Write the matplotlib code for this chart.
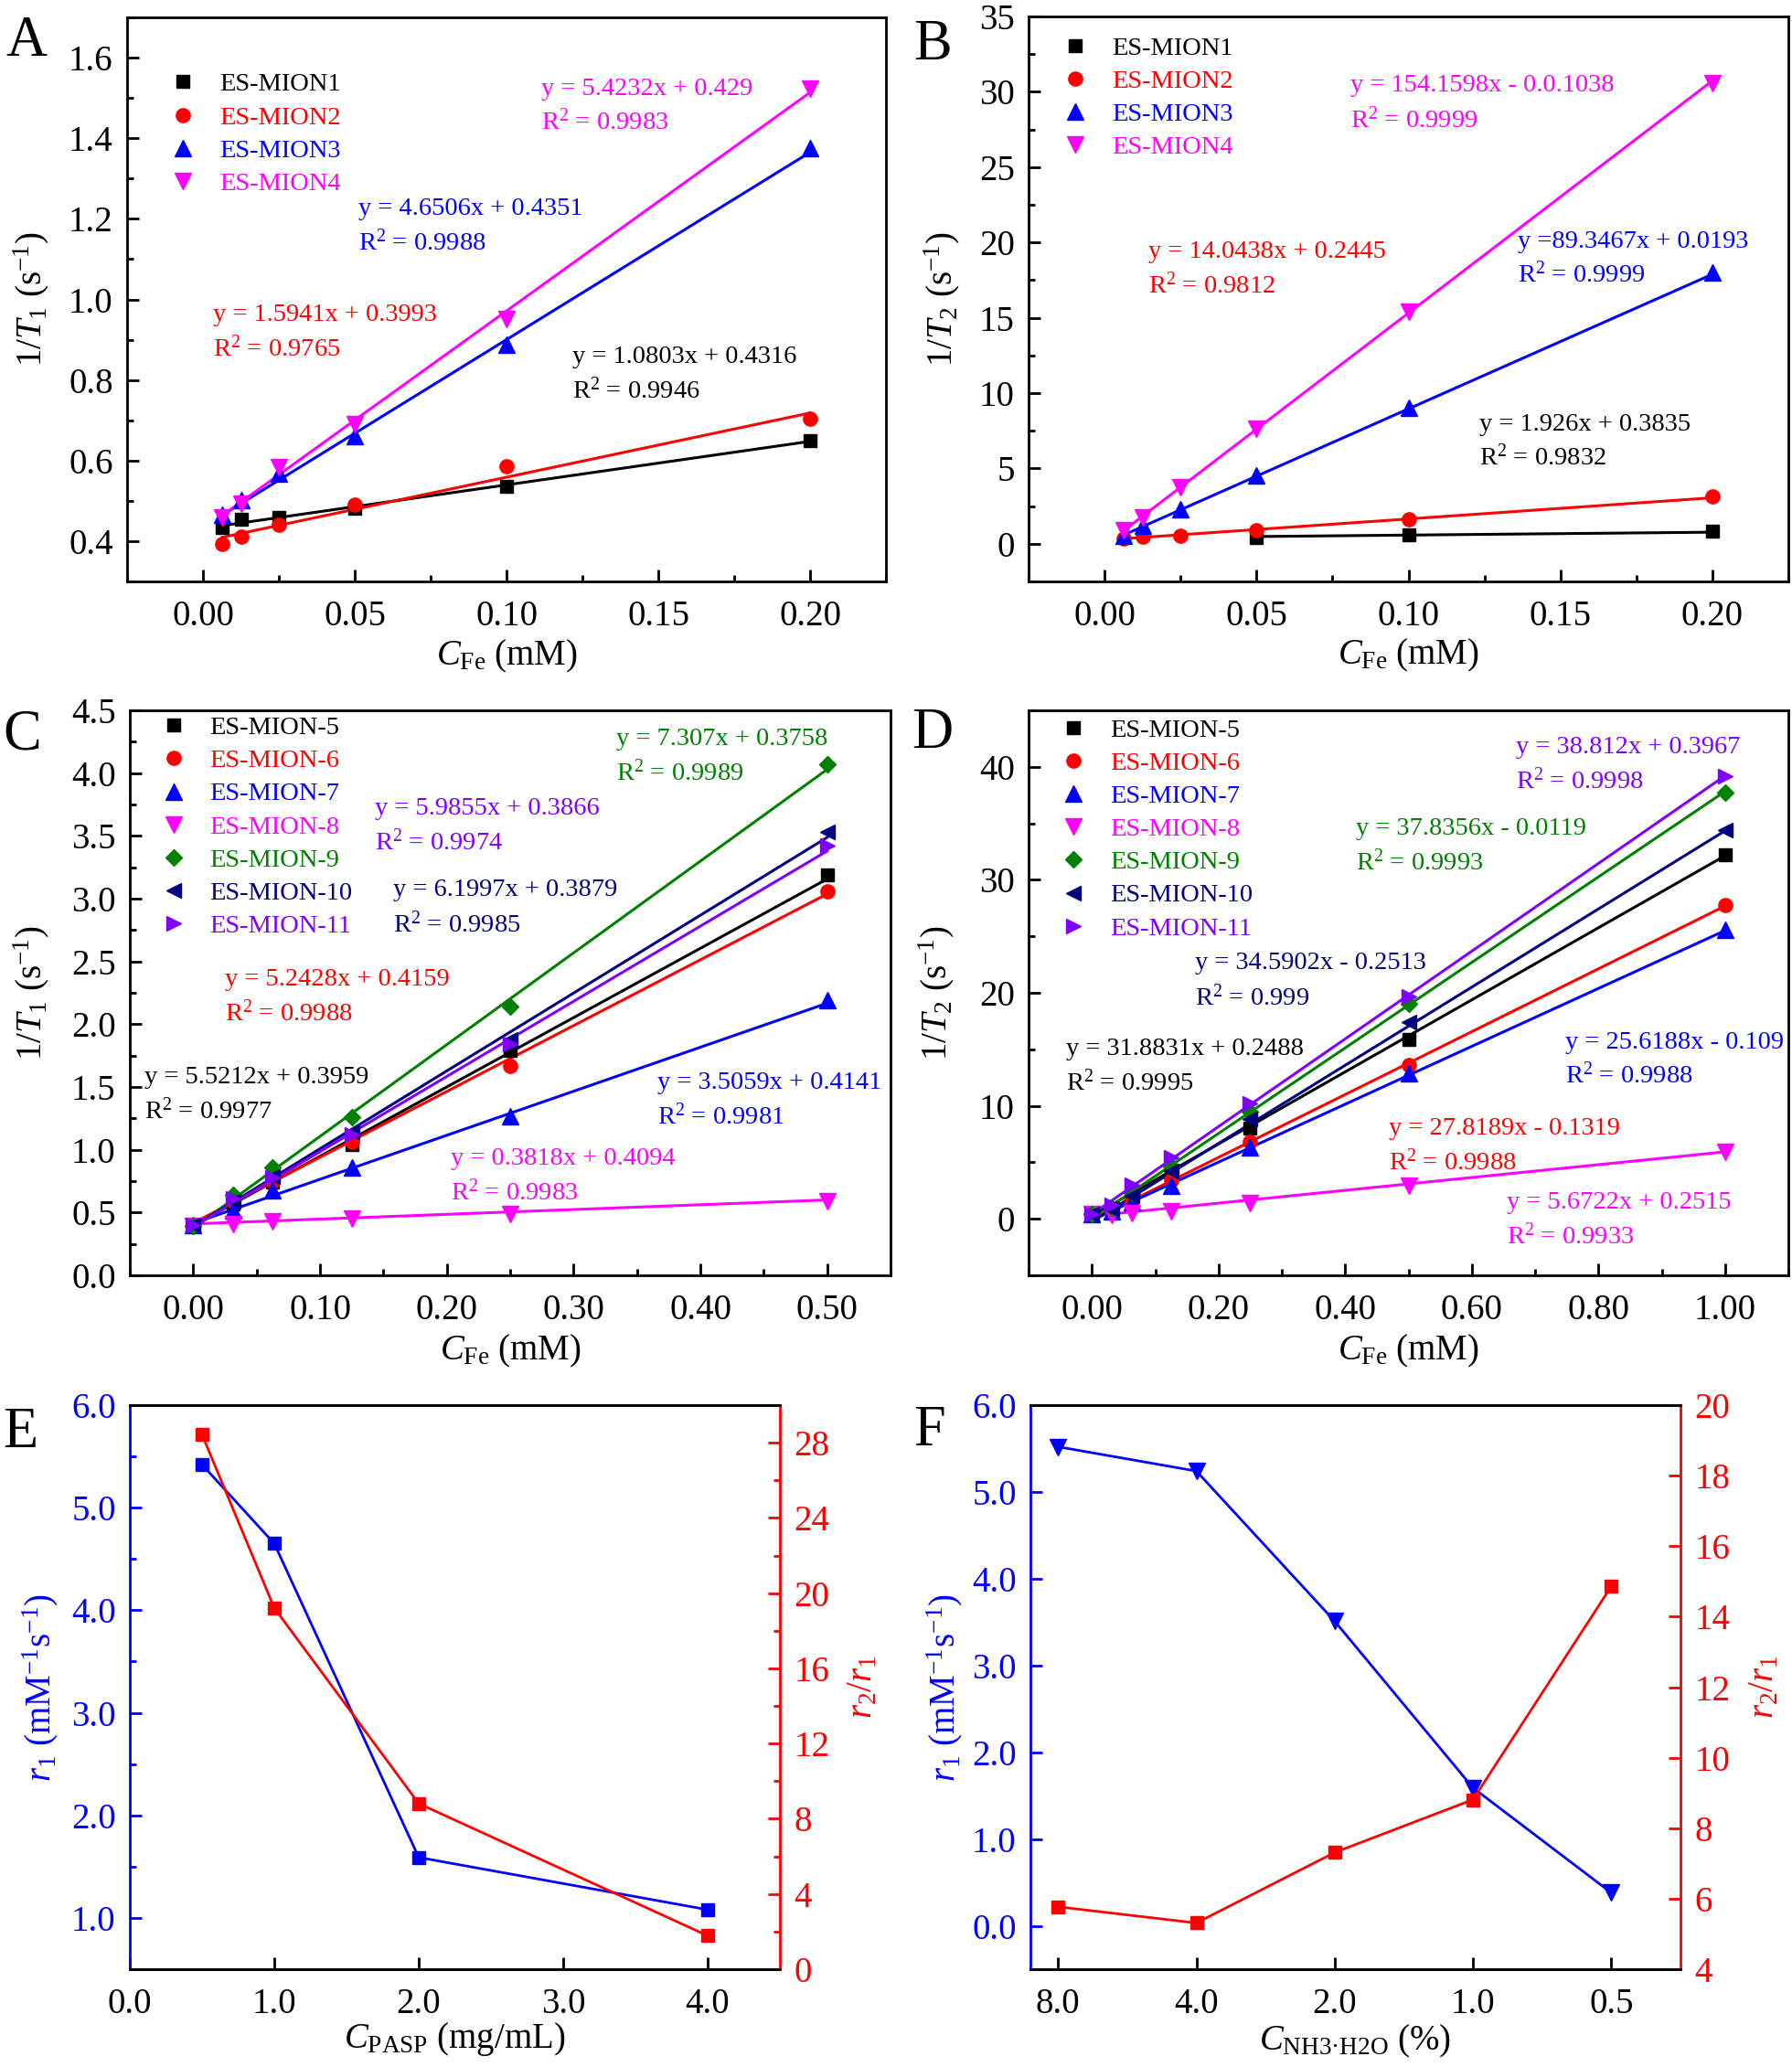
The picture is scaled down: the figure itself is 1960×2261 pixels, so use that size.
import numpy as np
import matplotlib
matplotlib.use('Agg')
import matplotlib.pyplot as plt
from matplotlib.ticker import MultipleLocator, FormatStrFormatter

plt.rcParams['font.family'] = ['Liberation Serif', 'DejaVu Serif']
plt.rcParams['mathtext.fontset'] = 'custom'
plt.rcParams['mathtext.rm'] = 'Liberation Serif'
plt.rcParams['mathtext.it'] = 'Liberation Serif:italic'
plt.rcParams['mathtext.bf'] = 'Liberation Serif:bold'

BLACK, RED, BLUE, MAGENTA = '#000000', '#FF0000', '#0000FF', '#FF00FF'
GREEN, NAVY, VIOLET = '#008000', '#000080', '#8000FF'

# ---- panel A / B : ES-MION1..4 ----
names_ab = ['ES-MION1', 'ES-MION2', 'ES-MION3', 'ES-MION4']
x_ab = [0.00625, 0.0125, 0.025, 0.05, 0.1, 0.2]
a_t1 = [[0.435, 0.455, 0.459, 0.481, 0.536, 0.649],
        [0.393, 0.411, 0.441, 0.490, 0.587, 0.704],
        [0.466, 0.501, 0.567, 0.660, 0.888, 1.375],
        [0.459, 0.492, 0.583, 0.690, 0.952, 1.523]]
a_slope = [1.0803, 1.5941, 4.6506, 5.4232]
a_icpt = [0.4316, 0.3993, 0.4351, 0.429]

b_x1 = [0.05, 0.1, 0.2]
b_t2 = [[0.44, 0.59, 0.82],
        [0.38, 0.47, 0.53, 0.88, 1.65, 3.12],
        [0.53, 1.18, 2.29, 4.56, 9.00, 18.03],
        [0.88, 1.76, 3.76, 7.65, 15.38, 30.6]]
b_slope = [1.926, 14.0438, 89.3467, 154.1598]
b_icpt = [0.3835, 0.2445, 0.0193, -0.1038]

# ---- panel C / D : ES-MION-5..11 ----
names_cd = ['ES-MION-5', 'ES-MION-6', 'ES-MION-7', 'ES-MION-8',
            'ES-MION-9', 'ES-MION-10', 'ES-MION-11']
x_c = [0, 0.03125, 0.0625, 0.125, 0.25, 0.5]
c_t1 = [[0.39, 0.57, 0.74, 1.04, 1.79, 3.19],
        [0.40, 0.59, 0.75, 1.06, 1.67, 3.06],
        [0.40, 0.52, 0.68, 0.86, 1.27, 2.19],
        [0.39, 0.41, 0.43, 0.45, 0.49, 0.59],
        [0.39, 0.64, 0.86, 1.26, 2.14, 4.07],
        [0.40, 0.59, 0.79, 1.14, 1.88, 3.53],
        [0.40, 0.61, 0.78, 1.12, 1.84, 3.42]]
c_slope = [5.5212, 5.2428, 3.5059, 0.3818, 7.307, 6.1997, 5.9855]
c_icpt = [0.3959, 0.4159, 0.4141, 0.4094, 0.3758, 0.3879, 0.3866]

x_d = [0, 0.03125, 0.0625, 0.125, 0.25, 0.5, 1.0]
d_t2 = [[0.4, 0.9, 1.9, 4.1, 8.0, 15.9, 32.2],
        [0.3, 0.6, 1.6, 3.4, 6.8, 13.6, 27.8],
        [0.4, 0.7, 1.5, 2.9, 6.3, 12.9, 25.6],
        [0.4, 0.3, 0.5, 0.7, 1.4, 2.9, 5.9],
        [0.4, 1.0, 2.3, 4.6, 9.5, 19.0, 37.7],
        [0.4, 0.8, 2.0, 4.2, 8.8, 17.4, 34.4],
        [0.4, 1.2, 3.0, 5.4, 10.2, 19.7, 39.2]]
d_slope = [31.8831, 27.8189, 25.6188, 5.6722, 37.8356, 34.5902, 38.812]
d_icpt = [0.2488, -0.1319, -0.109, 0.2515, -0.0119, -0.2513, 0.3967]

# ---- panel E / F ----
pasp = [0.5, 1.0, 2.0, 4.0]
e_r1 = [5.42, 4.65, 1.59, 1.08]
e_ratio = [28.43, 19.21, 8.81, 1.78]
nh3_labels = ['8.0', '4.0', '2.0', '1.0', '0.5']
f_r1 = [5.52, 5.24, 3.51, 1.59, 0.38]
f_ratio = [5.77, 5.31, 7.31, 8.81, 14.86]

# fit equation labels: (equation, R2, x, y baseline eq, y baseline R2)
ann_a = [('y = 1.0803x + 0.4316', '0.9946', 0.1216, 0.842, 0.754),
         ('y = 1.5941x + 0.3993', '0.9765', 0.0032, 0.946, 0.858),
         ('y = 4.6506x + 0.4351', '0.9988', 0.0513, 1.210, 1.122),
         ('y = 5.4232x + 0.429', '0.9983', 0.1115, 1.507, 1.422)]
ann_b = [('y = 1.926x + 0.3835', '0.9832', 0.1233, 7.53, 5.24),
         ('y = 14.0438x + 0.2445', '0.9812', 0.0144, 18.97, 16.62),
         ('y =89.3467x + 0.0193', '0.9999', 0.136, 19.65, 17.35),
         ('y = 154.1598x - 0.0.1038', '0.9999', 0.081, 30.0, 27.65)]
ann_c = [('y = 5.5212x + 0.3959', '0.9977', -0.0384, 1.53, 1.25),
         ('y = 5.2428x + 0.4159', '0.9988', 0.0248, 2.31, 2.03),
         ('y = 3.5059x + 0.4141', '0.9981', 0.366, 1.486, 1.203),
         ('y = 0.3818x + 0.4094', '0.9983', 0.2028, 0.884, 0.601),
         ('y = 7.307x + 0.3758', '0.9989', 0.334, 4.22, 3.94),
         ('y = 6.1997x + 0.3879', '0.9985', 0.158, 3.02, 2.73),
         ('y = 5.9855x + 0.3866', '0.9974', 0.143, 3.67, 3.39)]
ann_d = [('y = 31.8831x + 0.2488', '0.9995', -0.0407, 14.5, 11.4),
         ('y = 27.8189x - 0.1319', '0.9988', 0.469, 7.49, 4.35),
         ('y = 25.6188x - 0.109', '0.9988', 0.747, 15.1, 12.0),
         ('y = 5.6722x + 0.2515', '0.9933', 0.655, 0.9, -2.24),
         ('y = 37.8356x - 0.0119', '0.9993', 0.417, 34.0, 30.9),
         ('y = 34.5902x - 0.2513', '0.999', 0.1626, 22.1, 18.9),
         ('y = 38.812x + 0.3967', '0.9998', 0.670, 41.2, 38.1)]

colors_ab = [BLACK, RED, BLUE, MAGENTA]
markers_ab = ['s', 'o', '^', 'v']
colors_cd = [BLACK, RED, BLUE, MAGENTA, GREEN, NAVY, VIOLET]
markers_cd = ['s', 'o', '^', 'v', 'D', '<', '>']
msize = {'s': 10, 'o': 11, '^': 12.5, 'v': 12.5, 'D': 9, '<': 12, '>': 12}

TICK_FS = 28
LAB_FS = 28
ANN_FS = 20.5
W, H = 1960, 2261


def px_axes(fig, left, top, right, bottom):
    return fig.add_axes([left / W, 1 - bottom / H, (right - left) / W, (bottom - top) / H])


def style_axes(ax):
    for sp in ax.spines.values():
        sp.set_linewidth(2)
    ax.tick_params(which='both', direction='in', top=False, right=False,
                   width=2, labelsize=TICK_FS)
    ax.tick_params(which='major', length=9.5)
    ax.tick_params(which='minor', length=5)
    ax.tick_params(axis='x', pad=14.5)
    ax.tick_params(axis='y', pad=11)


def set_labels(ax, xlabel, ylabel, xy_x, xy_y):
    ax.set_xlabel(xlabel, fontsize=LAB_FS)
    ax.set_ylabel(ylabel, fontsize=LAB_FS)
    ax.xaxis.label.set_va('baseline')
    ax.xaxis.set_label_coords(0.5, xy_y)
    ax.yaxis.label.set_va('center')
    ax.yaxis.set_label_coords(xy_x, 0.5)


def fit_panel(ax, xs, ys, slopes, icpts, colors, markers, names, ann, anchor):
    handles = []
    for x, y, k, b, c, m in zip(xs, ys, slopes, icpts, colors, markers):
        x = np.asarray(x)
        h, = ax.plot(x, y, linestyle='none', marker=m, ms=msize[m], color=c,
                     mec=c, zorder=3)
        xl = np.array([x.min(), x.max()])
        ax.plot(xl, k * xl + b, color=c, lw=2.2, zorder=2)
        handles.append(h)
    ax.legend(handles, names, loc='upper left', bbox_to_anchor=anchor,
              frameon=False, fontsize=ANN_FS, labelcolor=colors,
              handlelength=1.0, handletextpad=0.9, labelspacing=0.36,
              borderpad=0, borderaxespad=0, numpoints=1)
    for (eq, r2, tx, ty1, ty2), c in zip(ann, colors):
        ax.text(tx, ty1, eq, color=c, fontsize=ANN_FS, va='baseline', ha='left')
        ax.text(tx, ty2, 'R$^{2}$ = ' + r2, color=c, fontsize=ANN_FS,
                va='baseline', ha='left')


fig = plt.figure(figsize=(W / 100, H / 100), dpi=100)

xlab_fe = r'$C_{\mathrm{Fe}}$ (mM)'
ylab_t1 = r'1/$T_{1}$ (s$^{-1}$)'
ylab_t2 = r'1/$T_{2}$ (s$^{-1}$)'

# A
ax = px_axes(fig, 139, 19, 969, 636)
style_axes(ax)
fit_panel(ax, [x_ab] * 4, a_t1, a_slope, a_icpt, colors_ab, markers_ab,
          names_ab, ann_a, (0.0566, 0.902))
ax.set_xlim(-0.025, 0.225)
ax.set_ylim(0.3, 1.7)
ax.xaxis.set_major_locator(MultipleLocator(0.05))
ax.xaxis.set_minor_locator(MultipleLocator(0.025))
ax.xaxis.set_major_formatter(FormatStrFormatter('%.2f'))
ax.yaxis.set_major_locator(MultipleLocator(0.2))
ax.yaxis.set_minor_locator(MultipleLocator(0.1))
ax.yaxis.set_major_formatter(FormatStrFormatter('%.1f'))
set_labels(ax, xlab_fe, ylab_t1, -0.1265, -0.1475)

# B
ax = px_axes(fig, 1125, 18, 1956, 636)
style_axes(ax)
fit_panel(ax, [b_x1, x_ab, x_ab, x_ab], b_t2, b_slope, b_icpt, colors_ab,
          markers_ab, names_ab, ann_b, (0.044, 0.965))
ax.set_xlim(-0.025, 0.225)
ax.set_ylim(-2.5, 35)
ax.xaxis.set_major_locator(MultipleLocator(0.05))
ax.xaxis.set_minor_locator(MultipleLocator(0.025))
ax.xaxis.set_major_formatter(FormatStrFormatter('%.2f'))
ax.yaxis.set_major_locator(MultipleLocator(5))
ax.yaxis.set_minor_locator(MultipleLocator(2.5))
ax.yaxis.set_major_formatter(FormatStrFormatter('%d'))
set_labels(ax, xlab_fe, ylab_t2, -0.114, -0.147)

# C
ax = px_axes(fig, 142, 777, 974, 1395)
style_axes(ax)
fit_panel(ax, [x_c] * 7, c_t1, c_slope, c_icpt, colors_cd, markers_cd,
          names_cd, ann_c, (0.040, 0.990))
ax.set_xlim(-0.05, 0.55)
ax.set_ylim(0, 4.5)
ax.xaxis.set_major_locator(MultipleLocator(0.1))
ax.xaxis.set_minor_locator(MultipleLocator(0.05))
ax.xaxis.set_major_formatter(FormatStrFormatter('%.2f'))
ax.yaxis.set_major_locator(MultipleLocator(0.5))
ax.yaxis.set_minor_locator(MultipleLocator(0.25))
ax.yaxis.set_major_formatter(FormatStrFormatter('%.1f'))
set_labels(ax, xlab_fe, ylab_t1, -0.130, -0.149)

# D
ax = px_axes(fig, 1125, 777, 1956, 1395)
style_axes(ax)
fit_panel(ax, [x_d] * 7, d_t2, d_slope, d_icpt, colors_cd, markers_cd,
          names_cd, ann_d, (0.042, 0.986))
ax.set_xlim(-0.1, 1.1)
ax.set_ylim(-5, 45)
ax.xaxis.set_major_locator(MultipleLocator(0.2))
ax.xaxis.set_minor_locator(MultipleLocator(0.1))
ax.xaxis.set_major_formatter(FormatStrFormatter('%.2f'))
ax.yaxis.set_major_locator(MultipleLocator(10))
ax.yaxis.set_minor_locator(MultipleLocator(5))
ax.yaxis.set_major_formatter(FormatStrFormatter('%d'))
set_labels(ax, xlab_fe, ylab_t2, -0.1215, -0.149)


def twin_panel(ax, ax2):
    style_axes(ax)
    style_axes(ax2)
    ax.spines['left'].set_color(BLUE)
    ax.spines['right'].set_visible(False)
    ax2.spines['left'].set_visible(False)
    ax2.spines['right'].set_color(RED)
    ax.tick_params(axis='y', which='both', colors=BLUE)
    ax2.tick_params(axis='y', which='both', colors=RED, right=True, left=False,
                    labelright=True, labelleft=False)
    ax2.tick_params(axis='x', which='both', bottom=False, labelbottom=False)


r1_label = r'$r_{1}$ (mM$^{-1}$s$^{-1}$)'
ratio_label = r'$r_{2}/r_{1}$'

# E
ax = px_axes(fig, 142, 1537, 853, 2154)
ax2 = ax.twinx()
twin_panel(ax, ax2)
ax.plot(pasp, e_r1, color=BLUE, marker='s', ms=9.5, lw=2)
ax2.plot(pasp, e_ratio, color=RED, marker='s', ms=9.5, lw=2)
ax.set_xlim(0, 4.5)
ax.set_ylim(0.5, 6.0)
ax2.set_ylim(0, 30)
ax.xaxis.set_major_locator(MultipleLocator(1))
ax.xaxis.set_major_formatter(FormatStrFormatter('%.1f'))
ax.yaxis.set_major_locator(MultipleLocator(1))
ax.yaxis.set_minor_locator(MultipleLocator(0.5))
ax.yaxis.set_major_formatter(FormatStrFormatter('%.1f'))
ax2.yaxis.set_major_locator(MultipleLocator(4))
ax2.yaxis.set_minor_locator(MultipleLocator(2))
ax2.yaxis.set_major_formatter(FormatStrFormatter('%d'))
set_labels(ax, r'$C_{\mathrm{PASP}}$ (mg/mL)', r1_label, -0.138, -0.139)
ax.yaxis.label.set_color(BLUE)
ax2.set_ylabel(ratio_label, fontsize=LAB_FS, color=RED, rotation=90)
ax2.yaxis.label.set_va('center')
ax2.yaxis.set_label_coords(1.128, 0.5)

# F
ax = px_axes(fig, 1127, 1537, 1838, 2154)
ax2 = ax.twinx()
twin_panel(ax, ax2)
xf = np.arange(len(nh3_labels))
ax.plot(xf, f_r1, color=BLUE, marker='v', ms=12.5, lw=2)
ax2.plot(xf, f_ratio, color=RED, marker='s', ms=9.5, lw=2)
ax.set_xlim(-0.2, 4.5)
ax.set_ylim(-0.5, 6.0)
ax2.set_ylim(4, 20)
ax.set_xticks(xf)
ax.set_xticklabels(nh3_labels)
ax.yaxis.set_major_locator(MultipleLocator(1))
ax.yaxis.set_major_formatter(FormatStrFormatter('%.1f'))
ax2.yaxis.set_major_locator(MultipleLocator(2))
ax2.yaxis.set_major_formatter(FormatStrFormatter('%d'))
set_labels(ax, r'$C_{\mathrm{NH3·H2O}}$ (%)', r1_label, -0.132, -0.144)
ax.yaxis.label.set_color(BLUE)
ax2.set_ylabel(ratio_label, fontsize=LAB_FS, color=RED, rotation=90)
ax2.yaxis.label.set_va('center')
ax2.yaxis.set_label_coords(1.129, 0.5)

# panel letters
for letter, lx, ly in [('A', 6, 61), ('B', 999, 65), ('C', 3, 820),
                       ('D', 997, 818), ('E', 3, 1583), ('F', 999, 1581)]:
    fig.text(lx / W, 1 - ly / H, letter, fontsize=45, ha='left', va='baseline')

fig.savefig('out.png', dpi=100)
